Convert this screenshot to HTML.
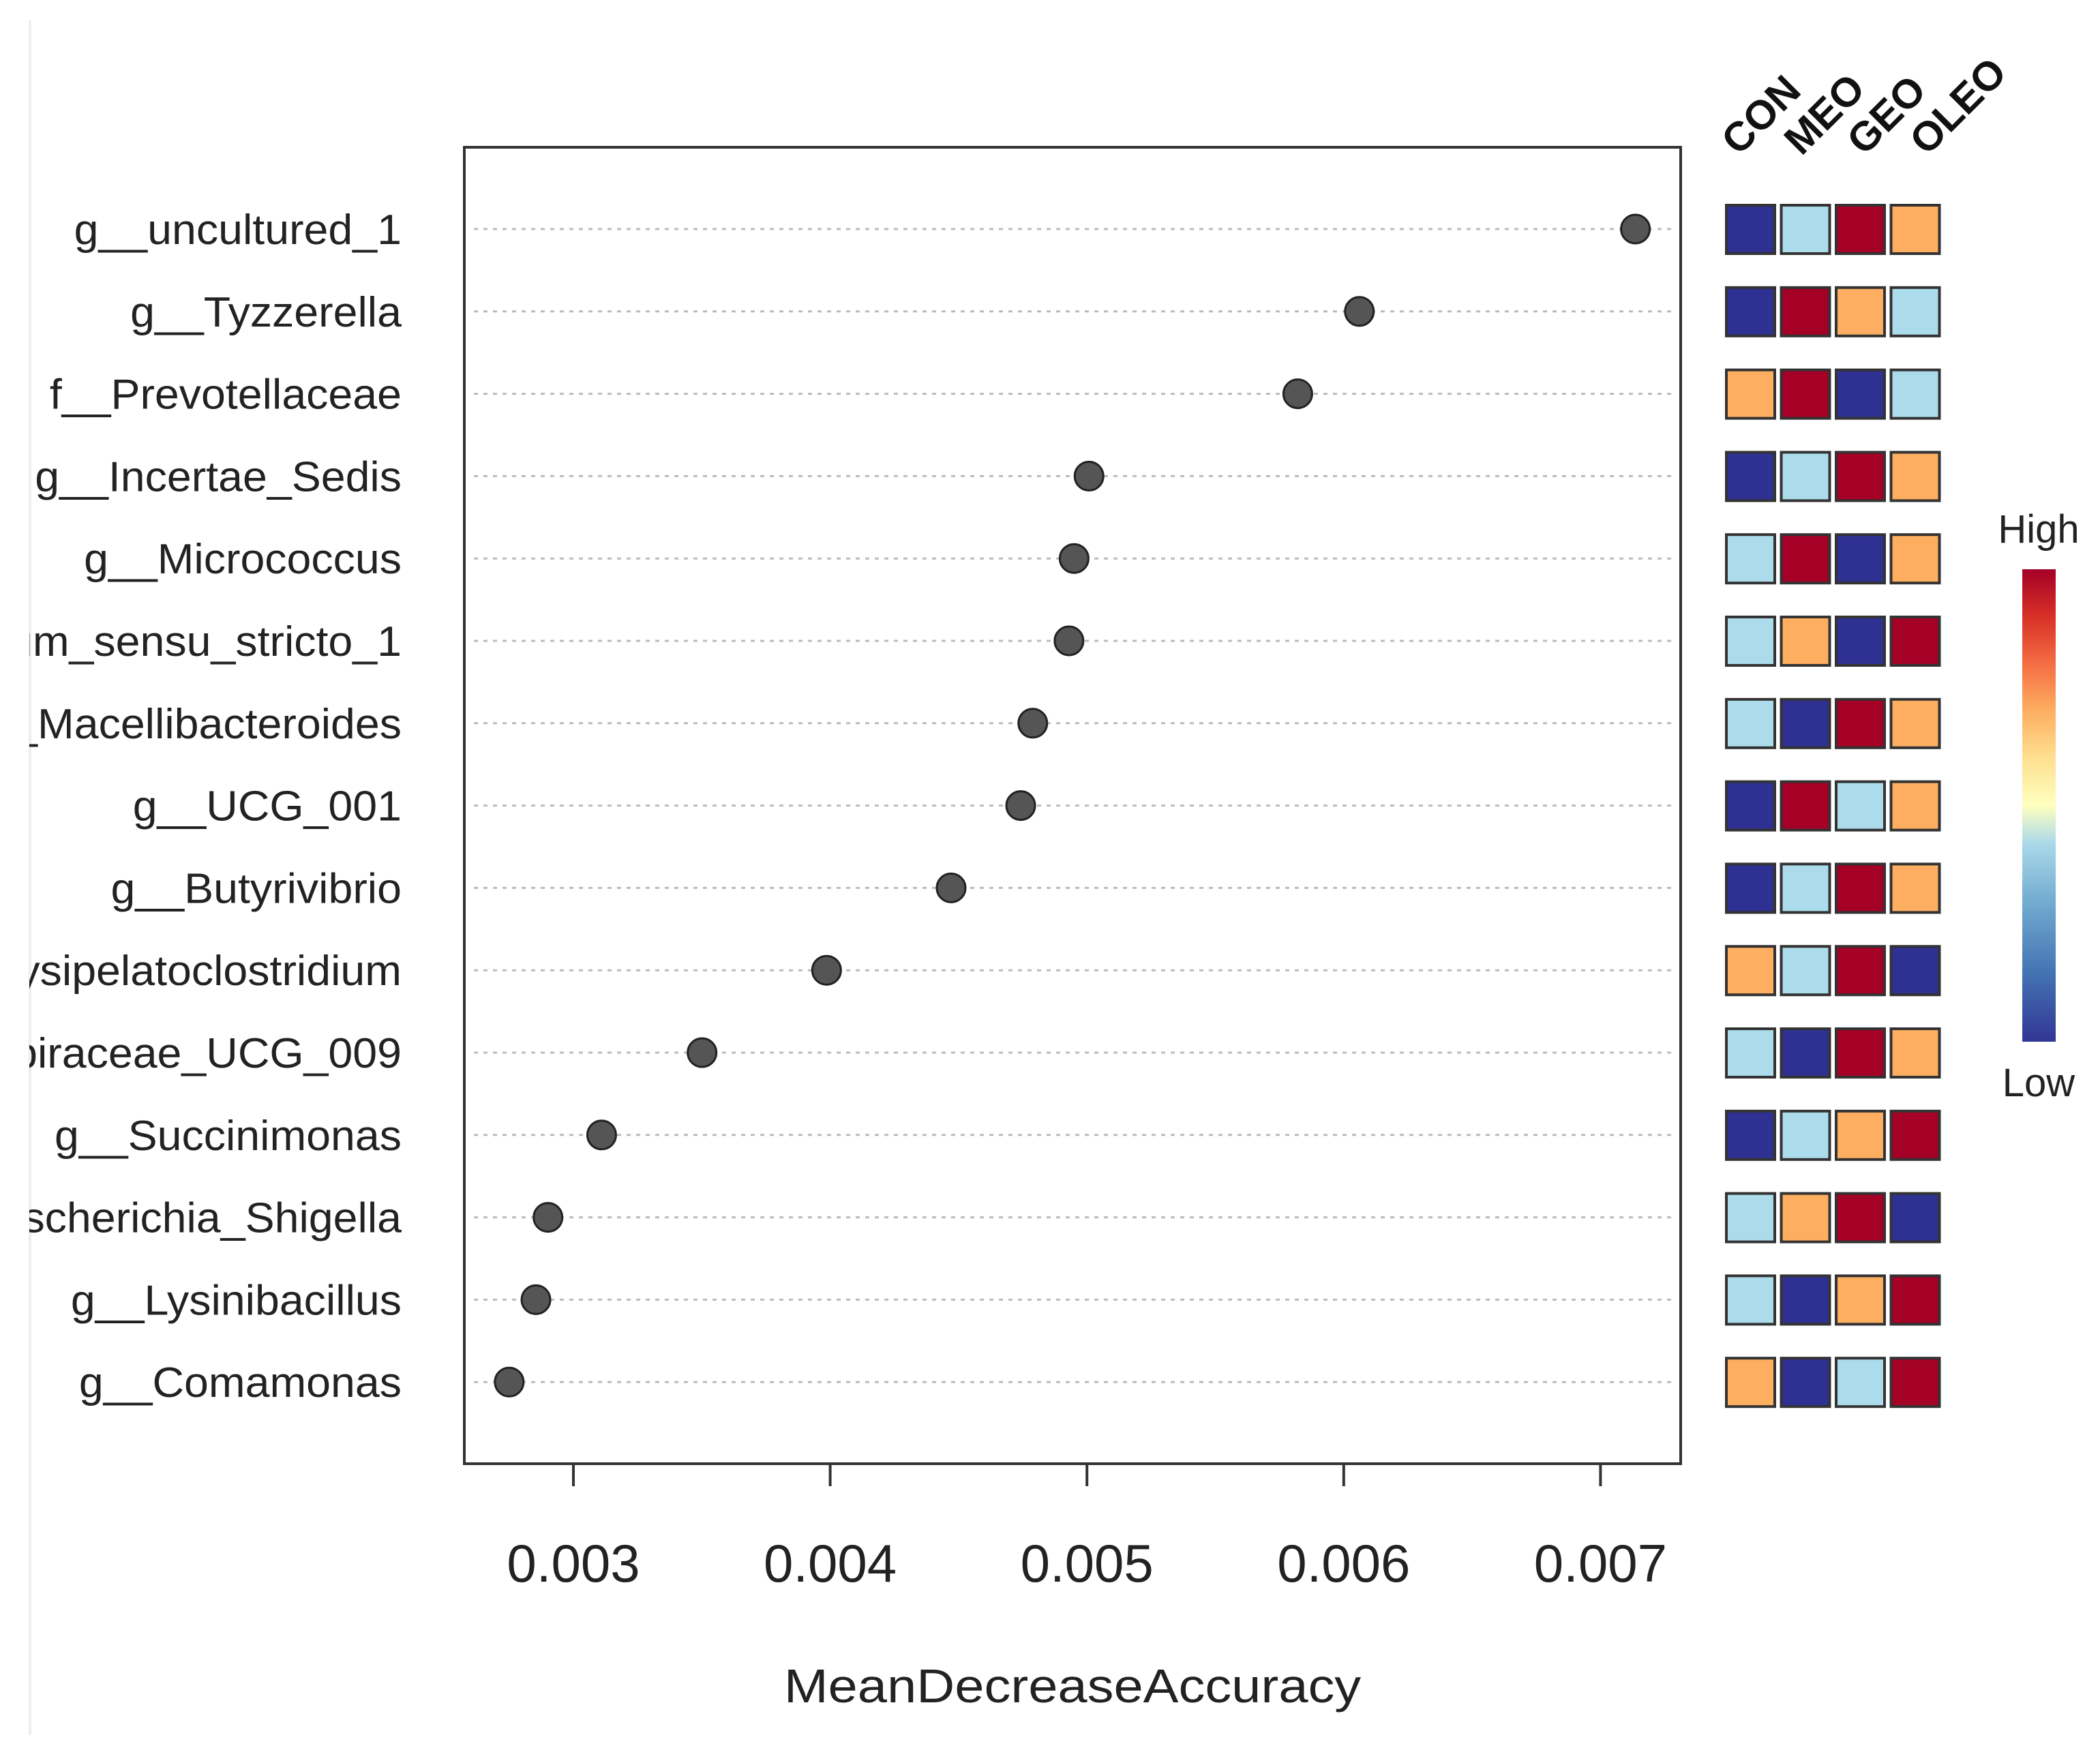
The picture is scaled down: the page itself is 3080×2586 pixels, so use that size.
<!DOCTYPE html>
<html><head><meta charset="utf-8"><style>
html,body{margin:0;padding:0;background:#fff;}
svg{display:block;font-family:"Liberation Sans",sans-serif;}
</style></head><body>
<svg id="chart" width="3080" height="2586" viewBox="0 0 3080 2586" xmlns="http://www.w3.org/2000/svg">
<defs>
<clipPath id="lblclip"><rect x="43" y="0" width="700" height="2586"/></clipPath>
<linearGradient id="cbar" x1="0" y1="1" x2="0" y2="0">
<stop offset="0" stop-color="#313695"/><stop offset="0.15" stop-color="#4575b4"/><stop offset="0.3" stop-color="#74add1"/>
<stop offset="0.42" stop-color="#abd9e9"/><stop offset="0.5" stop-color="#ffffbf"/><stop offset="0.6" stop-color="#fee090"/>
<stop offset="0.7" stop-color="#fdae61"/><stop offset="0.8" stop-color="#f46d43"/><stop offset="0.9" stop-color="#d73027"/><stop offset="1" stop-color="#a50026"/>
</linearGradient>
</defs>
<line x1="44" y1="30" x2="44" y2="2545" stroke="#eee" stroke-width="4"/>
<g id="grid"></g>
<rect x="681" y="216" width="1784" height="1931" fill="none" stroke="#333" stroke-width="4"/>
<g id="ticks"></g>
<g id="labels" clip-path="url(#lblclip)"></g>
<g id="dots"></g>
<g id="heat"></g>
<g id="colhead"></g>
<text x="1573" y="2497" font-size="70" text-anchor="middle" fill="#222" transform="translate(1573 0) scale(1.11 1) translate(-1573 0)">MeanDecreaseAccuracy</text>
<rect x="2966" y="835" width="49" height="693" fill="url(#cbar)"/>
<text x="2990" y="796" font-size="58" text-anchor="middle" fill="#222">High</text>
<text x="2990" y="1608" font-size="58" text-anchor="middle" fill="#222">Low</text>
</svg>
<script>
const taxa = ["g__uncultured_1","g__Tyzzerella","f__Prevotellaceae","g__Incertae_Sedis","g__Micrococcus","g__Clostridium_sensu_stricto_1","g__Macellibacteroides","g__UCG_001","g__Butyrivibrio","g__Erysipelatoclostridium","g__Lachnospiraceae_UCG_009","g__Succinimonas","g__Escherichia_Shigella","g__Lysinibacillus","g__Comamonas"];
const meanDecreaseAccuracy = [0.007136,0.006061,0.005821,0.005008,0.004950,0.004930,0.004789,0.004742,0.004471,0.003986,0.003501,0.003110,0.002901,0.002854,0.002750];
const groups = ["CON","MEO","GEO","OLEO"];
const heatLevels = [[0,1,3,2],[0,3,2,1],[2,3,0,1],[0,1,3,2],[1,3,0,2],[1,2,0,3],[1,0,3,2],[0,3,1,2],[0,1,3,2],[2,1,3,0],[1,0,3,2],[0,1,2,3],[1,2,3,0],[1,0,2,3],[2,0,1,3]];
const xTicks = [0.003,0.004,0.005,0.006,0.007];
const levelColors = ["#2f3192","#acdcec","#a50026","#fdae61"];
const NS="http://www.w3.org/2000/svg";
function xs(v){return 841+(v-0.003)*376600;}
function ys(i){return 336+i*120.8;}
function mk(tag,attrs,parent){const e=document.createElementNS(NS,tag);for(const k in attrs)e.setAttribute(k,attrs[k]);parent.appendChild(e);return e;}
const g=document.getElementById('grid'),tk=document.getElementById('ticks'),lb=document.getElementById('labels'),dt=document.getElementById('dots'),ht=document.getElementById('heat'),ch=document.getElementById('colhead');
const lvColor=[levelColors[0],levelColors[1],levelColors[3],levelColors[2]];
taxa.forEach((t,i)=>{
  const y=ys(i);
  const ln=mk('line',{x1:695,x2:2455,y1:y,y2:y,stroke:'#bbb','stroke-width':3,'stroke-dasharray':'6 8'},g);
  
  
  const tx=mk('text',{x:589,y:y+22,'font-size':62,'text-anchor':'end',fill:'#222',transform:'translate(589 0) scale(1.04 1) translate(-589 0)'},lb);
  tx.textContent=t;
  
  
  const c=mk('circle',{cx:xs(meanDecreaseAccuracy[i]),cy:y,r:21,fill:'#555',stroke:'#222','stroke-width':3},dt);
  
  
  heatLevels[i].forEach((lv,j)=>{
    const r=mk('rect',{x:2532+j*80.5,y:y-35,width:71,height:71,fill:lvColor[lv],stroke:'#333','stroke-width':4},ht);
    
    
  });
});
xTicks.forEach(v=>{
  const x=xs(v);
  const l=mk('line',{x1:x,x2:x,y1:2147,y2:2180,stroke:'#333','stroke-width':4},tk);
  
  
  const t=mk('text',{x:x,y:2320,'font-size':78,'text-anchor':'middle',fill:'#222'},tk);
  t.textContent=v.toFixed(3);
  
  
});
groups.forEach((gname,j)=>{
  const x=2550+j*92, y=230;
  const t=mk('text',{x:x,y:y,'font-size':60,'font-weight':'bold',fill:'#111',transform:`rotate(-45 ${x} ${y})`},ch);
  t.textContent=gname;
  
  
});
</script>
</body></html>
